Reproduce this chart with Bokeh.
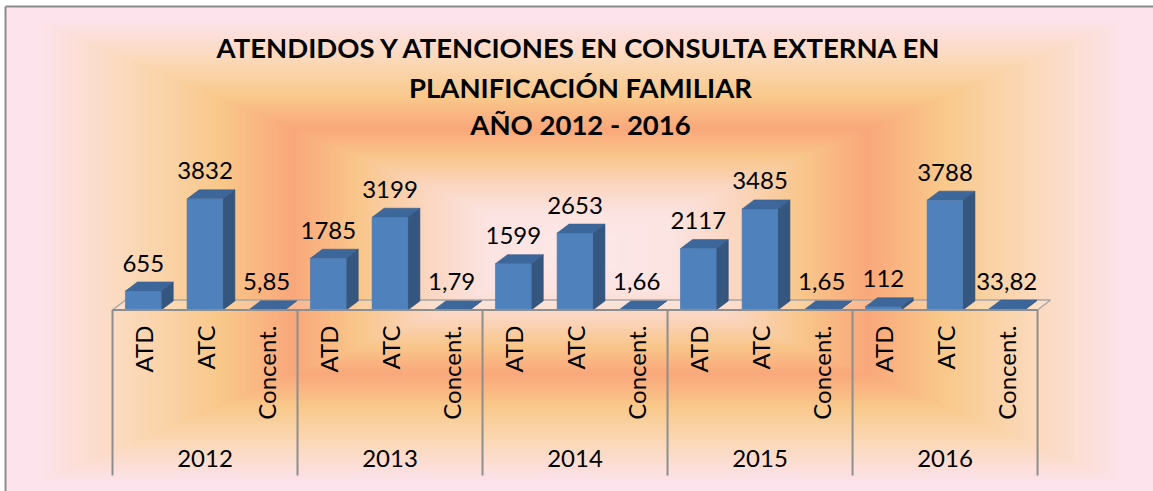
import numpy as np
from bokeh.plotting import figure
from bokeh.models import Range1d, ColumnDataSource
from bokeh.core.properties import value
from bokeh.embed import file_html
from bokeh.resources import INLINE

# ---------------- data ----------------
years = ["2012", "2013", "2014", "2015", "2016"]
measures = ["ATD", "ATC", "Concent."]
atd = [655, 1785, 1599, 2117, 112]
atc = [3832, 3199, 2653, 3485, 3788]
concent = [5.85, 1.79, 1.66, 1.65, 33.82]
title_lines = ["ATENDIDOS Y ATENCIONES EN CONSULTA EXTERNA EN",
               "PLANIFICACIÓN FAMILIAR",
               "AÑO 2012 - 2016"]

# ---------------- layout ----------------
W, H = 1153, 491
SLOT_PX = 61.67       # pixels per category slot
X0 = 112.0            # canvas px of the left edge of the category axis
BASE = 309.5          # canvas px of value 0 (front edge of the floor)
VPX = 0.029           # pixels per unit of value


def px2x(px):
    return (px - X0) / SLOT_PX


def py2y(py):
    return (BASE - py) / VPX


DX = 12.0 / SLOT_PX   # depth offset (x) in data units
DY = 9.0 / VPX        # depth offset (y) in data units
HW = 0.29             # half bar width (slots)
FONT = value("Lato")

p = figure(width=W, height=H, x_range=Range1d(px2x(0), px2x(W)),
           y_range=Range1d(py2y(H), py2y(0)), toolbar_location=None,
           output_backend="svg", min_border=0)
p.axis.visible = False
p.grid.visible = False
p.outline_line_color = None
p.border_fill_color = "#FFFFFF"
p.background_fill_color = "#FFFFFF"

# ---------------- background gradient (rectangular) ----------------
yy, xx = np.mgrid[0:H, 0:W]
cx, cy, hx, hy = 580.0, 251.0, 575.0, 245.0
d = np.maximum(np.abs(xx + 0.5 - cx) / hx, np.abs(yy + 0.5 - cy) / hy)
stops = [0.0, 0.16, 0.27, 0.39, 0.50, 0.63, 0.78, 0.94, 1.3]
cols = ["#FCE8E9", "#FCE4E2", "#FBD6C0", "#F9C68A", "#F9A87B",
        "#F9C98B", "#FBD9B9", "#FDE3EC", "#FDE5EF"]
rgb = np.array([[int(c[i:i + 2], 16) for i in (1, 3, 5)] for c in cols], dtype=float)
r = np.interp(d, stops, rgb[:, 0]).astype(np.uint32)
g = np.interp(d, stops, rgb[:, 1]).astype(np.uint32)
b = np.interp(d, stops, rgb[:, 2]).astype(np.uint32)
img = (255 << 24) | (b << 16) | (g << 8) | r
# white outside the chart area (left of x=5, above y=6)
img[:6, :] = (255 << 24) | 0xFFFFFF
img[:, :5] = (255 << 24) | 0xFFFFFF
img = np.flipud(img).astype(np.uint32)
p.image_rgba(image=[img], x=px2x(0), y=py2y(H), dw=px2x(W) - px2x(0),
             dh=py2y(0) - py2y(H))

# chart-area border (left and top)
p.line([px2x(5), px2x(5)], [py2y(H), py2y(6)], line_color="#8C8C8C", line_width=2)
p.line([px2x(5), px2x(W)], [py2y(6), py2y(6)], line_color="#8C8C8C", line_width=2)

# ---------------- floor ----------------
n_slots = len(years) * len(measures)
FDX, FDY = 13.0 / SLOT_PX, 10.0 / VPX
p.patch([0, n_slots, n_slots + FDX, FDX], [0, 0, FDY, FDY],
        fill_color="white", fill_alpha=0.18, line_color="#A6A6A6", line_width=1.5)

# ---------------- bars ----------------
series = [atd, atc, concent]
xc, vals, labels = [], [], []
for gi, yr in enumerate(years):
    for mi, m in enumerate(measures):
        v = series[mi][gi]
        xc.append(gi * len(measures) + mi + 0.5)
        vals.append(v)
        labels.append(f"{v:g}".replace(".", ","))

front_x, front_y, side_x, side_y, top_x, top_y = [], [], [], [], [], []
for c, v in zip(xc, vals):
    l, rr = c - HW, c + HW
    front_x.append([l, rr, rr, l]); front_y.append([0, 0, v, v])
    side_x.append([rr, rr + DX, rr + DX, rr]); side_y.append([0, DY, v + DY, v])
    top_x.append([l, rr, rr + DX, l + DX]); top_y.append([v, v, v + DY, v + DY])

p.patches(side_x, side_y, fill_color="#34567F", line_color="#2E4D73", line_width=0.6)
p.patches(top_x, top_y, fill_color="#3D669B", line_color="#365C8B", line_width=0.6)
p.patches(front_x, front_y, fill_color="#4F81BD", line_color="#4574AB", line_width=0.6)

# value labels
src = ColumnDataSource(dict(x=xc, y=[v + 28.0 / VPX for v in vals], t=labels))
p.text(x="x", y="y", text="t", source=src, text_font=FONT, text_font_size="24px",
       text_align="center", text_baseline="middle", text_color="black")

# ---------------- category axis (boxes) ----------------
bx = [gi * len(measures) for gi in range(len(years) + 1)]
p.segment(x0=bx, y0=[0] * len(bx), x1=bx, y1=[py2y(475)] * len(bx),
          line_color="#8E8E8E", line_width=2)
p.line([0, n_slots], [0, 0], line_color="#8E8E8E", line_width=2)

msrc = ColumnDataSource(dict(x=xc, y=[py2y(325)] * len(xc),
                             t=[m for _ in years for m in measures]))
p.text(x="x", y="y", text="t", source=msrc, angle=np.pi / 2, text_font=FONT,
       text_font_size="24px", text_align="right", text_baseline="middle",
       text_color="black")

ysrc = ColumnDataSource(dict(x=[gi * len(measures) + 1.5 for gi in range(len(years))],
                             y=[py2y(458)] * len(years), t=years))
p.text(x="x", y="y", text="t", source=ysrc, text_font=FONT, text_font_size="24px",
       text_align="center", text_baseline="middle", text_color="black")

# ---------------- title ----------------
tsrc = ColumnDataSource(dict(x=[px2x(580)] * 3, y=[py2y(47), py2y(87), py2y(124)],
                             t=title_lines))
p.text(x="x", y="y", text="t", source=tsrc, text_font=FONT, text_font_size="27.5px",
       text_font_style="bold", text_align="center", text_baseline="middle",
       text_color="black")

open("out.html", "w").write(file_html(p, INLINE))
